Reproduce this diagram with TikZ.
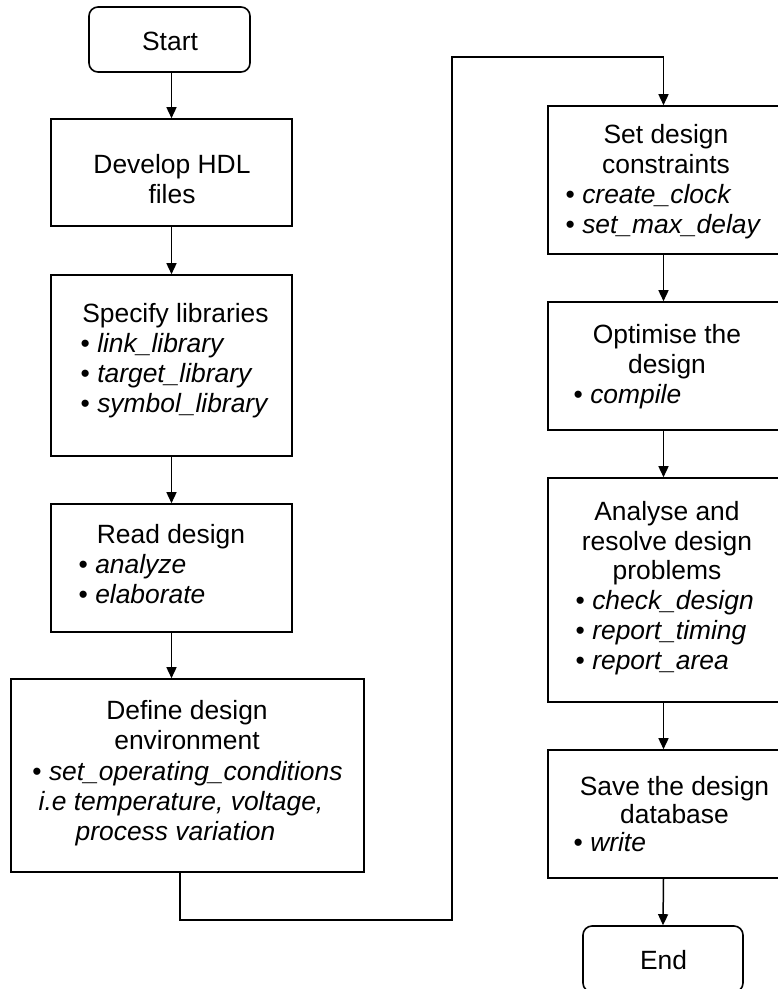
\documentclass[tikz,border=0pt]{standalone}
\usepackage{fontspec}
\setmainfont{Liberation Sans}
\usetikzlibrary{arrows.meta}
\begin{document}
\begin{tikzpicture}[x=1pt,y=-1pt,
  font=\fontsize{26.4}{30}\selectfont,
  stepbox/.style={draw=black,line width=1.6pt,rectangle,inner sep=0pt,fill=white},
  termbox/.style={stepbox,rounded corners=9pt},
  ln/.style={anchor=base,inner sep=0pt},
  bl/.style={anchor=base west,inner sep=0pt,font=\fontsize{26.4}{30}\selectfont\itshape},
  flow/.style={draw=black,line width=1.5pt,-{Triangle[length=11pt,width=10pt]}}]
\useasboundingbox[fill=white] (0,0) rectangle (778,989);

% left column
\node[termbox,minimum width=161pt,minimum height=65pt] (start) at (169.5,39.5) {};
\node[stepbox,minimum width=241pt,minimum height=107pt] (dev) at (171.5,172.5) {};
\node[stepbox,minimum width=241pt,minimum height=181pt] (spec) at (171.5,365.5) {};
\node[stepbox,minimum width=241pt,minimum height=128pt] (read) at (171.5,568) {};
\node[stepbox,minimum width=353pt,minimum height=193pt] (env) at (187.5,775.5) {};

% right column
\node[stepbox,minimum width=231pt,minimum height=148pt] (set) at (663.5,180) {};
\node[stepbox,minimum width=231pt,minimum height=128pt] (opt) at (663.5,366) {};
\node[stepbox,minimum width=231pt,minimum height=224pt] (ana) at (663.5,590) {};
\node[stepbox,minimum width=231pt,minimum height=128pt] (save) at (663.5,814) {};
\node[termbox,minimum width=160pt,minimum height=66pt] (end) at (663,959) {};

% labels
\node[ln] (t-start) at (170,50) {Start};

\node[ln] (t-dev1) at (172,173) {Develop HDL};
\node[ln] (t-dev2) at (172,203) {files};

\node[ln] (t-spec) at (175.5,322) {Specify libraries};
\node[bl] (t-spec1) at (80.5,352) {\upshape• \itshape link\_library};
\node[bl] (t-spec2) at (80.5,382) {\upshape• \itshape target\_library};
\node[bl] (t-spec3) at (80.5,412) {\upshape• \itshape symbol\_library};

\node[ln] (t-read) at (171,543) {Read design};
\node[bl] (t-read1) at (78.5,573) {\upshape• \itshape analyze};
\node[bl] (t-read2) at (78.5,603) {\upshape• \itshape elaborate};

\node[ln] (t-env1) at (187,719) {Define design};
\node[ln] (t-env2) at (187,749.5) {environment};
\node[ln] (t-env3) at (187.5,780) {• \itshape set\_operating\_conditions};
\node[ln] (t-env4) at (181,810) {\itshape i.e temperature, voltage,};
\node[ln] (t-env5) at (175.5,840) {\itshape process variation};

\node[ln] (t-set1) at (666,143) {Set design};
\node[ln] (t-set2) at (666,173) {constraints};
\node[bl] (t-set3) at (565.5,203) {\upshape• \itshape create\_clock};
\node[bl] (t-set4) at (565.5,233) {\upshape• \itshape set\_max\_delay};

\node[ln] (t-opt1) at (667,343) {Optimise the};
\node[ln] (t-opt2) at (667,373) {design};
\node[bl] (t-opt3) at (573.5,403) {\upshape• \itshape compile};

\node[ln] (t-ana1) at (667,520) {Analyse and};
\node[ln] (t-ana2) at (667,550) {resolve design};
\node[ln] (t-ana3) at (667,579) {problems};
\node[bl] (t-ana4) at (575.5,609) {\upshape• \itshape check\_design};
\node[bl] (t-ana5) at (575.5,639) {\upshape• \itshape report\_timing};
\node[bl] (t-ana6) at (575.5,669) {\upshape• \itshape report\_area};

\node[ln] (t-save1) at (674.5,795) {Save the design};
\node[ln] (t-save2) at (674.5,823) {database};
\node[bl] (t-save3) at (573.5,851) {\upshape• \itshape write};

\node[ln] (t-end) at (663.5,969) {End};

% connectors
\draw[flow] (dev.north |- start.south) -- (dev.north);
\draw[flow] (dev.south) -- (spec.north);
\draw[flow] (spec.south) -- (read.north);
\draw[flow] (read.south) -- (read.south |- env.north);

\coordinate (loopL) at (180,920);
\coordinate (loopR) at (452,57);
\draw[flow] (env.south -| loopL) -- (loopL) -| (loopR) -| (set.north);

\draw[flow] (set.south) -- (opt.north);
\draw[flow] (opt.south) -- (ana.north);
\draw[flow] (ana.south) -- (save.north);
\draw[flow] (save.south) -- (end.north);
\end{tikzpicture}
\end{document}
